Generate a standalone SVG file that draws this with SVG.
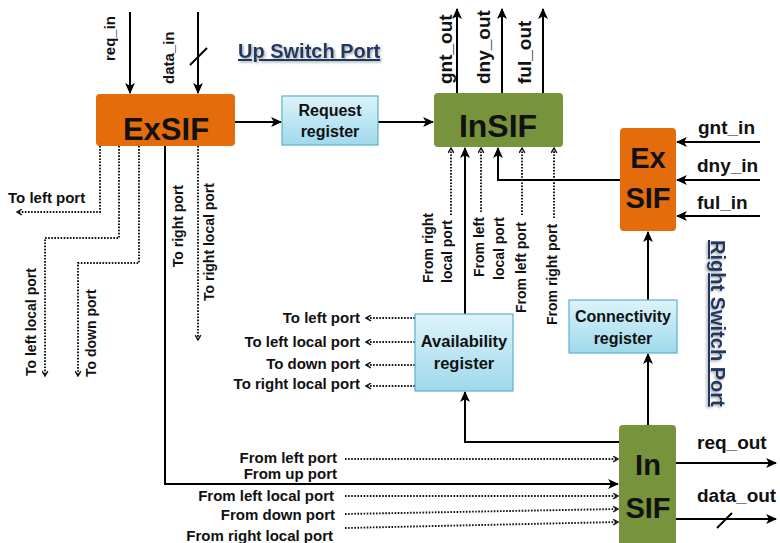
<svg xmlns="http://www.w3.org/2000/svg" width="780" height="543" viewBox="0 0 780 543">
<style>
text{font-family:"Liberation Sans",Arial,sans-serif;font-weight:bold;fill:#111}
.s{stroke:#000;stroke-width:2;fill:none}
.d{stroke:#111;stroke-width:1.9;fill:none;stroke-dasharray:1.6 1.5}
.orange{fill:#E46C0A}
.green{fill:#77933C}
.reg{fill:url(#blue);stroke:#5AB2CC;stroke-width:1.2}
.big{font-size:30px}
.lbl{font-size:15px}
.vl{font-size:14px}
.io{font-size:19px}
.rt{font-size:16px}
.port{font-size:20px;fill:#1F3864;text-decoration:underline;filter:url(#sh)}
</style>
<defs>
<linearGradient id="blue" x1="0" y1="0" x2="0" y2="1">
<stop offset="0" stop-color="#DDF3FA"/><stop offset="1" stop-color="#9ED9EC"/>
</linearGradient>
<filter id="sh" x="-10%" y="-30%" width="130%" height="160%">
<feDropShadow dx="1.5" dy="1.5" stdDeviation="0.8" flood-color="#888" flood-opacity="0.7"/>
</filter>
<marker id="a" viewBox="0 0 10 10" refX="9" refY="5" markerWidth="11" markerHeight="11" markerUnits="userSpaceOnUse" orient="auto">
<path d="M0,0.5 L10,5 L0,9.5 L2.5,5 z" fill="#000"/>
</marker>
<marker id="o" viewBox="0 0 10 10" refX="9" refY="5" markerWidth="7" markerHeight="7" markerUnits="userSpaceOnUse" orient="auto">
<path d="M2,1 L9,5 L2,9" fill="none" stroke="#111" stroke-width="2"/>
</marker>
</defs>
<rect width="780" height="543" fill="#fff"/>

<g id="connectors">
<path class="s" d="M130,12 V93" marker-end="url(#a)"/>
<path class="s" d="M198,12 V93" marker-end="url(#a)"/>
<path class="s" d="M190,65 L207,48"/>
<path class="s" d="M235,122 H281" marker-end="url(#a)"/>
<path class="s" d="M378,122 H433" marker-end="url(#a)"/>
<path class="s" d="M457,93 V9" marker-end="url(#a)"/>
<path class="s" d="M502,93 V9" marker-end="url(#a)"/>
<path class="s" d="M543,93 V9" marker-end="url(#a)"/>
<path class="s" d="M760,142 H677" marker-end="url(#a)"/>
<path class="s" d="M760,180 H677" marker-end="url(#a)"/>
<path class="s" d="M760,216 H677" marker-end="url(#a)"/>
<path class="s" d="M620,180 H498 V148" marker-end="url(#a)"/>
<path class="s" d="M465,314 V148" marker-end="url(#a)"/>
<path class="s" d="M619,442 H465 V392" marker-end="url(#a)"/>
<path class="s" d="M648,425 V354" marker-end="url(#a)"/>
<path class="s" d="M648,300 V232" marker-end="url(#a)"/>
<path class="s" d="M676,463 H776" marker-end="url(#a)"/>
<path class="s" d="M676,519 H776" marker-end="url(#a)"/>
<path class="s" d="M717,528 L732,513"/>
<path class="s" d="M165,146 V484 H618" marker-end="url(#a)"/>

<path class="d" d="M100,146 V212 H17" marker-end="url(#o)"/>
<path class="d" d="M119,146 V238 H45 V376" marker-end="url(#o)"/>
<path class="d" d="M139,146 V263 H78 V376" marker-end="url(#o)"/>
<path class="d" d="M198,146 V340" marker-end="url(#o)"/>

<path class="d" d="M415,318 H366" marker-end="url(#o)"/>
<path class="d" d="M415,342 H366" marker-end="url(#o)"/>
<path class="d" d="M415,365 H366" marker-end="url(#o)"/>
<path class="d" d="M415,386 H366" marker-end="url(#o)"/>

<path class="d" d="M451,215 V148" marker-end="url(#o)"/>
<path class="d" d="M481,212 V148" marker-end="url(#o)"/>
<path class="d" d="M522,215 V148" marker-end="url(#o)"/>
<path class="d" d="M554,218 V148" marker-end="url(#o)"/>

<path class="d" d="M345,459 L618,459" marker-end="url(#o)"/>
<path class="d" d="M345,496 L618,496" marker-end="url(#o)"/>
<path class="d" d="M345,514 L618,509" marker-end="url(#o)"/>
<path class="d" d="M345,528 L618,522" marker-end="url(#o)"/>
</g>

<g id="exsif-up">
<rect class="orange" x="96" y="94" width="139" height="52" rx="4"/>
<text x="166" y="140" text-anchor="middle" font-size="31">ExSIF</text>
</g>
<g id="request-register">
<rect class="reg" x="282" y="96" width="96" height="49"/>
<text class="rt" x="330" y="116" text-anchor="middle">Request</text>
<text class="rt" x="330" y="137" text-anchor="middle">register</text>
</g>
<g id="insif-up">
<rect class="green" x="434" y="93" width="129" height="54" rx="4"/>
<text x="498" y="137" text-anchor="middle" font-size="32">InSIF</text>
</g>
<g id="exsif-right">
<rect class="orange" x="620" y="128" width="56" height="103" rx="4"/>
<text x="648" y="168" text-anchor="middle" font-size="29">Ex</text>
<text x="648" y="208" text-anchor="middle" font-size="29">SIF</text>
</g>
<g id="availability-register">
<rect class="reg" x="415" y="314" width="98" height="77"/>
<text x="464" y="347" text-anchor="middle" font-size="16.5">Availability</text>
<text x="464" y="369" text-anchor="middle" font-size="16.5">register</text>
</g>
<g id="connectivity-register">
<rect class="reg" x="569" y="300" width="108" height="53"/>
<text class="rt" x="623" y="322" text-anchor="middle">Connectivity</text>
<text class="rt" x="623" y="344" text-anchor="middle">register</text>
</g>
<g id="insif-right">
<rect class="green" x="619" y="425" width="57" height="130" rx="4"/>
<text x="648" y="475" text-anchor="middle" font-size="29">In</text>
<text x="648" y="518" text-anchor="middle" font-size="29">SIF</text>
</g>

<g id="labels">
<text font-size="15" transform="translate(115,61) rotate(-90)">req_in</text>
<text font-size="15" transform="translate(174,84) rotate(-90)">data_in</text>
<text class="port" x="238" y="58">Up Switch Port</text>
<text class="io" transform="translate(452,84) rotate(-90)">gnt_out</text>
<text class="io" transform="translate(490,84) rotate(-90)">dny_out</text>
<text class="io" transform="translate(531,84) rotate(-90)">ful_out</text>
<text class="io" x="698" y="134">gnt_in</text>
<text class="io" x="697" y="172">dny_in</text>
<text class="io" x="697" y="209">ful_in</text>
<text class="port" transform="translate(711,240) rotate(90)">Right Switch Port</text>
<text class="io" x="697" y="449">req_out</text>
<text class="io" x="697" y="502">data_out</text>

<text class="lbl" x="8" y="203">To left port</text>
<text class="vl" transform="translate(36,376) rotate(-90)">To left local port</text>
<text class="vl" transform="translate(96,377) rotate(-90)">To down port</text>
<text class="vl" transform="translate(183,185) rotate(-90)" text-anchor="end">To right port</text>
<text class="vl" transform="translate(214,183) rotate(-90)" text-anchor="end">To right local port</text>

<text class="vl" transform="translate(433,283) rotate(-90)">From right</text>
<text class="vl" transform="translate(452,283) rotate(-90)">local port</text>
<text class="vl" transform="translate(484,277) rotate(-90)">From left</text>
<text class="vl" transform="translate(504,280) rotate(-90)">local port</text>
<text class="vl" transform="translate(526,313) rotate(-90)">From left port</text>
<text class="vl" transform="translate(557,325) rotate(-90)">From right port</text>

<text class="lbl" x="360" y="323" text-anchor="end">To left port</text>
<text class="lbl" x="360" y="347" text-anchor="end">To left local port</text>
<text class="lbl" x="360" y="369" text-anchor="end">To down port</text>
<text class="lbl" x="360" y="389" text-anchor="end">To right local port</text>

<text class="lbl" x="337" y="463" text-anchor="end">From left port</text>
<text class="lbl" x="337" y="479" text-anchor="end">From up port</text>
<text class="lbl" x="334" y="501" text-anchor="end">From left local port</text>
<text class="lbl" x="335" y="520" text-anchor="end">From down port</text>
<text class="lbl" x="333" y="541" text-anchor="end">From right local port</text>
</g>
</svg>
